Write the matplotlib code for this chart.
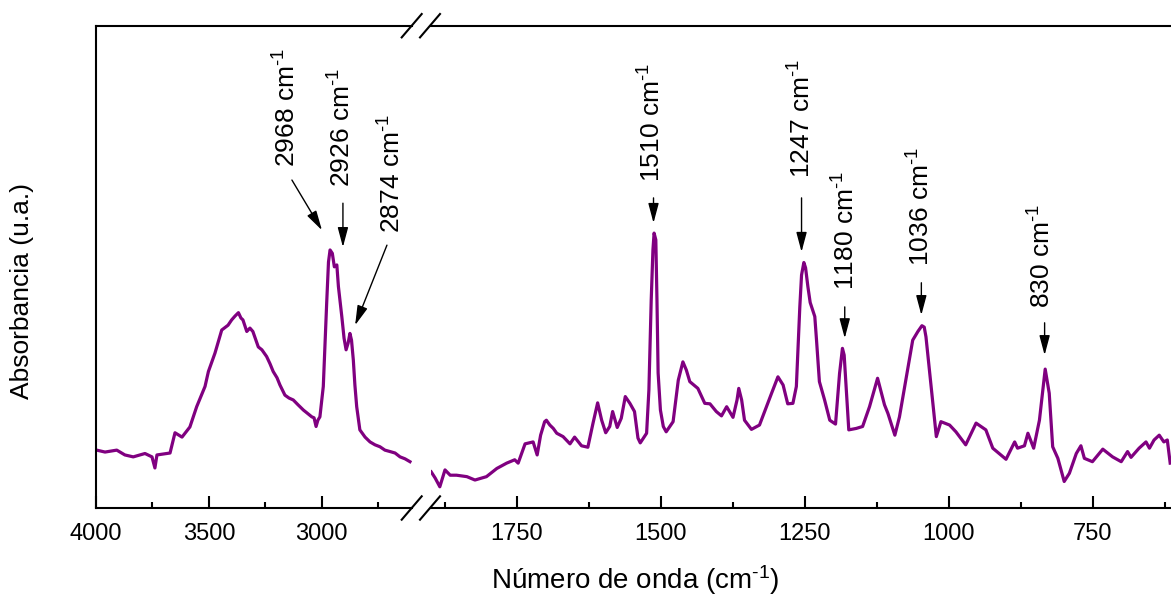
import matplotlib
matplotlib.use("Agg")
import matplotlib.pyplot as plt
from matplotlib.lines import Line2D
from matplotlib.ticker import MultipleLocator, NullLocator

plt.rcParams["font.family"] = ["Liberation Sans", "DejaVu Sans"]
plt.rcParams["mathtext.fontset"] = "custom"
plt.rcParams["mathtext.rm"] = "Liberation Sans"
plt.rcParams["mathtext.it"] = "Liberation Sans:italic"
plt.rcParams["mathtext.bf"] = "Liberation Sans:bold"

# FTIR spectrum, high wavenumber part (cm-1, absorbance a.u.)
wn_high = [3997, 3960, 3908, 3872, 3835, 3783, 3752, 3739, 3730, 3672,
           3650, 3619, 3584, 3554, 3517, 3502, 3473, 3443, 3415, 3399,
           3384, 3369, 3358, 3349, 3332, 3318, 3305, 3281, 3265, 3244,
           3229, 3215, 3198, 3185, 3163, 3145, 3126, 3105, 3081, 3065,
           3044, 3034, 3025, 3017, 3008, 2993, 2978, 2970, 2963, 2953,
           2944, 2933, 2926, 2911, 2901, 2892, 2883, 2875, 2868, 2860,
           2853, 2845, 2831, 2808, 2786, 2764, 2742, 2720, 2697, 2675,
           2653, 2631, 2609]
abs_high = [0.120, 0.116, 0.120, 0.110, 0.106, 0.113, 0.106, 0.083, 0.110, 0.114,
            0.156, 0.147, 0.168, 0.210, 0.252, 0.283, 0.321, 0.369, 0.379, 0.390,
            0.398, 0.405, 0.394, 0.390, 0.366, 0.373, 0.366, 0.334, 0.328, 0.314,
            0.299, 0.283, 0.270, 0.255, 0.234, 0.228, 0.224, 0.214, 0.203, 0.197,
            0.189, 0.187, 0.169, 0.182, 0.189, 0.252, 0.425, 0.510, 0.535, 0.528,
            0.500, 0.504, 0.459, 0.397, 0.352, 0.328, 0.342, 0.362, 0.348, 0.307,
            0.255, 0.210, 0.162, 0.147, 0.137, 0.131, 0.127, 0.120, 0.117, 0.114,
            0.106, 0.102, 0.096]

# fingerprint part
wn_low = [1899, 1892, 1884, 1875, 1866, 1855, 1837, 1823, 1803, 1785,
          1768, 1754, 1748, 1741, 1736, 1722, 1715, 1709, 1702, 1699,
          1693, 1687, 1681, 1670, 1658, 1650, 1638, 1627, 1618, 1610,
          1603, 1596, 1589, 1584, 1576, 1569, 1562, 1554, 1546, 1540,
          1536, 1525, 1521, 1517, 1514, 1512, 1509, 1507, 1505, 1501,
          1496, 1491, 1479, 1470, 1462, 1456, 1450, 1436, 1424, 1415,
          1404, 1395, 1386, 1375, 1368, 1365, 1360, 1355, 1343, 1329,
          1317, 1308, 1297, 1288, 1280, 1271, 1265, 1259, 1256, 1252,
          1249, 1245, 1241, 1233, 1230, 1225, 1216, 1207, 1197, 1190,
          1185, 1182, 1180, 1174, 1161, 1150, 1138, 1124, 1112, 1106,
          1094, 1086, 1074, 1063, 1054, 1047, 1043, 1040, 1031, 1022,
          1014, 999, 988, 971, 953, 936, 924, 901, 886, 881,
          869, 863, 853, 843, 833, 826, 820, 811, 800, 791,
          779, 771, 765, 751, 733, 716, 701, 690, 684, 670,
          658, 652, 644, 635, 627, 621, 616]
abs_low = [0.075, 0.062, 0.044, 0.079, 0.068, 0.068, 0.065, 0.058, 0.065, 0.082,
           0.093, 0.100, 0.093, 0.116, 0.133, 0.137, 0.110, 0.151, 0.179, 0.182,
           0.172, 0.165, 0.155, 0.148, 0.133, 0.147, 0.129, 0.126, 0.176, 0.218,
           0.182, 0.156, 0.169, 0.200, 0.167, 0.186, 0.231, 0.217, 0.200, 0.145,
           0.135, 0.155, 0.245, 0.431, 0.535, 0.570, 0.556, 0.431, 0.280, 0.203,
           0.169, 0.158, 0.179, 0.265, 0.303, 0.286, 0.262, 0.248, 0.217, 0.216,
           0.200, 0.191, 0.210, 0.188, 0.224, 0.248, 0.224, 0.182, 0.163, 0.172,
           0.210, 0.238, 0.272, 0.255, 0.216, 0.217, 0.252, 0.417, 0.483, 0.509,
           0.498, 0.459, 0.426, 0.397, 0.348, 0.262, 0.224, 0.182, 0.174, 0.279,
           0.331, 0.317, 0.279, 0.162, 0.165, 0.169, 0.210, 0.269, 0.214, 0.196,
           0.151, 0.189, 0.272, 0.348, 0.366, 0.378, 0.375, 0.355, 0.252, 0.148,
           0.179, 0.172, 0.158, 0.131, 0.176, 0.162, 0.124, 0.101, 0.137, 0.124,
           0.129, 0.155, 0.124, 0.182, 0.288, 0.238, 0.127, 0.103, 0.055, 0.072,
           0.113, 0.129, 0.103, 0.096, 0.122, 0.106, 0.096, 0.117, 0.105, 0.124,
           0.137, 0.124, 0.141, 0.151, 0.137, 0.141, 0.093]

# peak labels: (panel, label, text x, text y, arrow tail x, y, arrow tip x, y)
peaks = [
    (0, "2968", 3154, 0.707, 3132, 0.680, 2999, 0.576),
    (0, "2926", 2910, 0.666, 2906, 0.632, 2906, 0.541),
    (0, "2874", 2688, 0.570, 2711, 0.545, 2852, 0.379),
    (1, "1510", 1516, 0.676, 1513, 0.643, 1513, 0.591),
    (1, "1247", 1256, 0.684, 1256, 0.643, 1256, 0.531),
    (1, "1180", 1178, 0.452, 1181, 0.417, 1181, 0.352),
    (1, "1036", 1048, 0.502, 1048, 0.467, 1048, 0.400),
    (1, "830", 838, 0.415, 834, 0.384, 834, 0.317),
]

W, H = 1171, 597
fig = plt.figure(figsize=(W / 100, H / 100), dpi=100)
bottom, top = 508, 25.7
ax_h = fig.add_axes([96 / W, 1 - bottom / H, (412 - 96) / W, (bottom - top) / H])
ax_l = fig.add_axes([430.6 / W, 1 - bottom / H, (1179.4 - 430.6) / W, (bottom - top) / H],
                    sharey=ax_h)

color = "#800080"
ax_h.plot(wn_high, abs_high, color=color, lw=2.3)
ax_l.plot(wn_low, abs_low, color=color, lw=2.3)

ax_h.set_xlim(4000, 2600)
ax_l.set_xlim(1900, 600)
ax_h.set_ylim(0, 1)

ax_h.xaxis.set_major_locator(MultipleLocator(500))
ax_h.xaxis.set_minor_locator(MultipleLocator(250))
ax_l.xaxis.set_major_locator(MultipleLocator(250))
ax_l.xaxis.set_minor_locator(MultipleLocator(125))

for ax in (ax_h, ax_l):
    for s in ax.spines.values():
        s.set_linewidth(1.5)
    ax.yaxis.set_major_locator(NullLocator())
    ax.tick_params(axis="x", which="major", direction="in", length=8.6, width=1.5,
                   labelsize=17, pad=11)
    ax.tick_params(axis="x", which="minor", direction="in", length=4.3, width=1.5)
ax_h.spines["right"].set_visible(False)
ax_l.spines["left"].set_visible(False)
ax_l.spines["right"].set_visible(False)

axes = [ax_h, ax_l]
for panel, lab, tx, ty, ax0, ay0, ax1, ay1 in peaks:
    ax = axes[panel]
    ax.text(tx, ty, lab + r" cm$^{\text{-}1}$", rotation=90, ha="center", va="bottom",
            fontsize=19)
    ax.annotate("", xy=(ax1, ay1), xytext=(ax0, ay0),
                arrowprops=dict(arrowstyle="-|>,head_length=0.6,head_width=0.16",
                                color="black", lw=1.0, shrinkA=0, shrinkB=0,
                                mutation_scale=20))

# axis break marks
for cx in (411.7, 430.0):
    for cy in (bottom, top):
        fig.add_artist(Line2D([(cx - 10) / W, (cx + 10) / W],
                              [1 - (cy + 11.7) / H, 1 - (cy - 11.7) / H],
                              transform=fig.transFigure, color="black", lw=1.5))

fig.text(635 / W, 1 - 580 / H, r"Número de onda (cm$^{\text{-}1}$)", ha="center",
         va="center", fontsize=20)
fig.text(22 / W, 1 - 291 / H, "Absorbancia (u.a.)", rotation=90, ha="center",
         va="center", fontsize=19)

fig.savefig("out.png", dpi=100)
